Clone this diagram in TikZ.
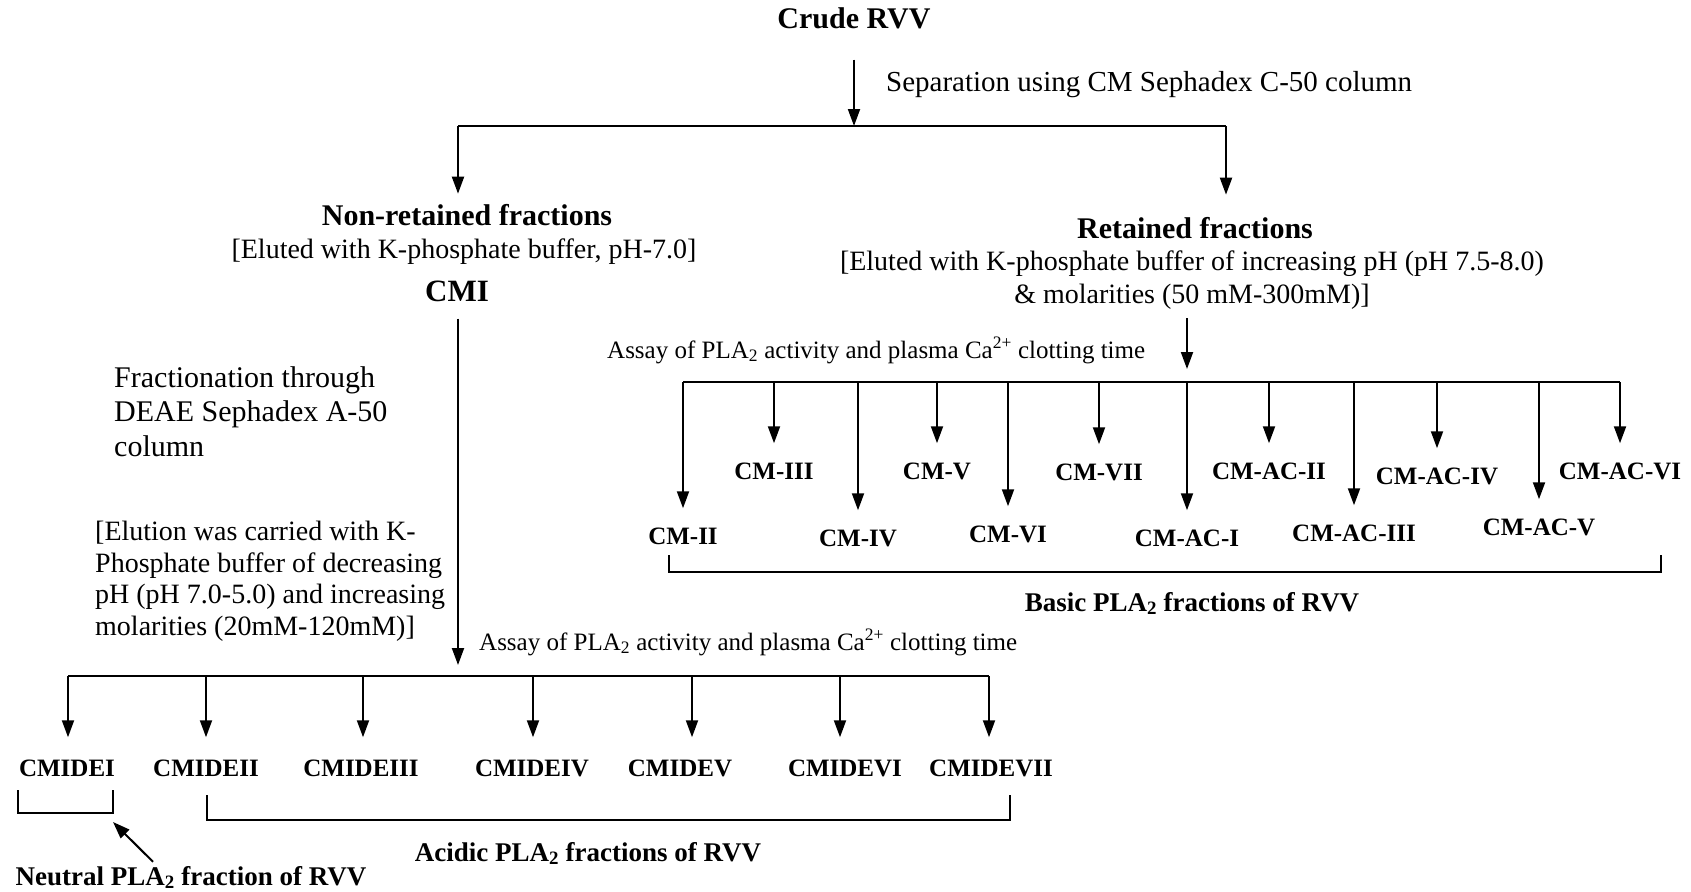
\documentclass[tikz,border=0pt]{standalone}
\usepackage{fontspec}
\setmainfont{Liberation Serif}
\usetikzlibrary{arrows.meta}
\begin{document}
\begin{tikzpicture}[x=1pt,y=-1pt,
  arr/.style={-{Triangle[length=17pt,width=12pt]}, line width=2pt},
  ln/.style={line width=2pt},
  hd/.style={font=\fontsize{30}{34}\selectfont\bfseries, inner sep=0pt, anchor=base},
  txt/.style={font=\fontsize{28}{32}\selectfont, inner sep=0pt, anchor=base},
  sm/.style={font=\fontsize{25}{29}\selectfont, inner sep=0pt, anchor=base west},
  lbl/.style={font=\fontsize{25}{29}\selectfont\bfseries, inner sep=0pt, anchor=base},
  grp/.style={font=\fontsize{27}{31}\selectfont\bfseries, inner sep=0pt, anchor=base},
]
\path[use as bounding box] (0,0) rectangle (1691,891);

% ---- top ----
\node[hd] (crude) at (854,29) {Crude RVV};
\node[font=\fontsize{29}{33}\selectfont, inner sep=0pt, anchor=base west] (sep) at (886,91) {Separation using CM Sephadex C-50 column};
\coordinate (splitC) at (854,126);
\coordinate (splitL) at (458,126);
\coordinate (splitR) at (1226,126);
\draw[arr] ([yshift=-30pt]crude.south) -- (splitC);
\draw[ln] (splitL) -- (splitR);

% ---- left branch ----
\node[hd] (nonret) at (467,225) {Non-retained fractions};
\node[txt] (elutL) at (464,258) {[Eluted with K-phosphate buffer, pH-7.0]};
\node[hd, font=\fontsize{31}{35}\selectfont\bfseries] (cmi) at (457,301) {CMI};
\draw[arr, shorten >=10pt] (splitL) -- (splitL |- nonret.north);

\node[font=\fontsize{30}{34.5}\selectfont, align=left, inner sep=0pt, anchor=north west] (frac) at (114,366) {Fractionation through\\DEAE Sephadex A-50\\column};
\node[font=\fontsize{28}{31.6}\selectfont, align=left, inner sep=0pt, anchor=north west] (elu) at (95,521) {[Elution was carried with K-\\Phosphate buffer of decreasing\\pH (pH 7.0-5.0) and increasing\\molarities (20mM-120mM)]};

\coordinate (busL) at (458,676);
\coordinate (busLa) at (68,676);
\coordinate (busLb) at (989,676);
\draw[arr] (busL |- cmi.south) ++(0,17) -- ([yshift=11pt]busL);
\node[sm] (assayL) at (479,650) {Assay of PLA\textsubscript{2} activity and plasma Ca\textsuperscript{2+} clotting time};
\draw[ln] (busLa) -- (busLb);

\node[lbl] (cmidei)   at (67,776)  {CMIDEI};
\node[lbl] (cmideii)  at (206,776) {CMIDEII};
\node[lbl] (cmideiii) at (361,776) {CMIDEIII};
\node[lbl] (cmideiv)  at (532,776) {CMIDEIV};
\node[lbl] (cmidev)   at (680,776) {CMIDEV};
\node[lbl] (cmidevi)  at (845,776) {CMIDEVI};
\node[lbl] (cmidevii) at (991,776) {CMIDEVII};
\foreach \n/\dx in {cmidei/1,cmideii/0,cmideiii/2,cmideiv/1,cmidev/12,cmidevi/-5,cmidevii/-2}{
  \draw[arr, shorten >=22pt] ([xshift=\dx pt]\n.north |- busL) -- ([xshift=\dx pt]\n.north);
}

\coordinate (nbTL) at (18,790);
\coordinate (nbTR) at (113,790);
\draw[ln] (nbTL) -- ++(0,23) -| (nbTR);
\coordinate (abTL) at (207,795);
\coordinate (abTR) at (1010,795);
\draw[ln] (abTL) -- ++(0,25) -| (abTR);

\node[grp] (acidic) at (588,861) {Acidic PLA\textsubscript{2} fractions of RVV};
\node[grp] (neutral) at (191,885) {Neutral PLA\textsubscript{2} fraction of RVV};
\coordinate (ptrTip) at (113,822);
\draw[arr] (neutral.north -| 153,0) ++(0,-4) -- (ptrTip);

% ---- right branch ----
\node[hd] (ret) at (1195,238) {Retained fractions};
\draw[arr, shorten >=22pt] (splitR) -- (splitR |- ret.north);
\node[font=\fontsize{28}{33}\selectfont, align=center, inner sep=0pt, anchor=north] (elutR) at (1192,251) {[Eluted with K-phosphate buffer of increasing pH (pH 7.5-8.0)\\\& molarities (50 mM-300mM)]};
\coordinate (busR) at (1187,382);
\coordinate (busRa) at (683,382);
\coordinate (busRb) at (1620,382);
\draw[arr] (busR |- elutR.south) ++(0,8) -- ([yshift=13pt]busR);
\node[sm] (assayR) at (607,358) {Assay of PLA\textsubscript{2} activity and plasma Ca\textsuperscript{2+} clotting time};
\draw[ln] (busRa) -- (busRb);

\node[lbl] (cmii)    at (683,544)  {CM-II};
\node[lbl] (cmiii)   at (774,479)  {CM-III};
\node[lbl] (cmiv)    at (858,546)  {CM-IV};
\node[lbl] (cmv)     at (937,479)  {CM-V};
\node[lbl] (cmvi)    at (1008,542) {CM-VI};
\node[lbl] (cmvii)   at (1099,480) {CM-VII};
\node[lbl] (cmaci)   at (1187,546) {CM-AC-I};
\node[lbl] (cmacii)  at (1269,479) {CM-AC-II};
\node[lbl] (cmaciii) at (1354,541) {CM-AC-III};
\node[lbl] (cmaciv)  at (1437,484) {CM-AC-IV};
\node[lbl] (cmacv)   at (1539,535) {CM-AC-V};
\node[lbl] (cmacvi)  at (1620,479) {CM-AC-VI};
\foreach \n in {cmii,cmiii,cmiv,cmv,cmvi,cmvii,cmaci,cmacii,cmaciii,cmaciv,cmacv,cmacvi}{
  \draw[arr, shorten >=19pt] (\n.north |- busR) -- (\n.north);
}

\coordinate (bbTL) at (669,555);
\coordinate (bbTR) at (1661,555);
\draw[ln] (bbTL) -- ++(0,17) -| (bbTR);
\node[grp] (basic) at (1192,611) {Basic PLA\textsubscript{2} fractions of RVV};
\end{tikzpicture}
\end{document}
